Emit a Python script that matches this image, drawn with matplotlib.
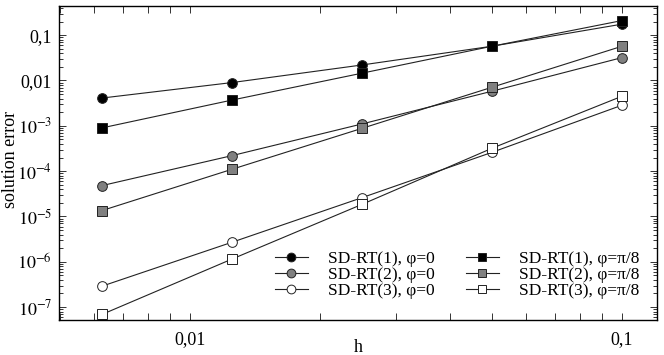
import matplotlib.pyplot as plt
from matplotlib.ticker import FixedLocator, FixedFormatter, LogLocator, NullFormatter

plt.rcParams['font.family'] = ['Liberation Serif', 'DejaVu Serif']
plt.rcParams['mathtext.fontset'] = 'stix'

h = [0.00625, 0.0125, 0.025, 0.05, 0.1]

rt1_phi0 = [0.0041, 0.0090, 0.022, 0.057, 0.175]
rt2_phi0 = [4.8e-5, 2.2e-4, 1.1e-3, 5.8e-3, 0.032]
rt3_phi0 = [2.9e-7, 2.7e-6, 2.6e-5, 2.6e-4, 2.85e-3]
rt1_phi8 = [9.0e-4, 3.7e-3, 0.0145, 0.057, 0.21]
rt2_phi8 = [1.35e-5, 1.1e-4, 8.8e-4, 7.1e-3, 0.057]
rt3_phi8 = [6.9e-8, 1.15e-6, 1.85e-5, 3.2e-4, 4.5e-3]

labels = ['SD-RT(1), φ=0', 'SD-RT(2), φ=0', 'SD-RT(3), φ=0',
          'SD-RT(1), φ=π/8', 'SD-RT(2), φ=π/8', 'SD-RT(3), φ=π/8']
series = [rt1_phi0, rt2_phi0, rt3_phi0, rt1_phi8, rt2_phi8, rt3_phi8]
markers = ['o', 'o', 'o', 's', 's', 's']
fills = ['black', '#808080', 'white', 'black', '#808080', 'white']

fig = plt.figure(figsize=(6.64, 3.55), dpi=100)
ax = fig.add_axes([59 / 664, 1 - 320 / 355, 598 / 664, 314 / 355])

for y, m, fc, lab in zip(series, markers, fills, labels):
    ax.plot(h, y, color='#222222', lw=0.8, marker=m, markersize=7,
            markerfacecolor=fc, markeredgecolor='#222222', markeredgewidth=0.7,
            label=lab)

ax.set_xscale('log')
ax.set_yscale('log')
ax.set_xlim(0.00497, 0.1205)
ax.set_ylim(5.2e-8, 0.44)

ax.xaxis.set_major_locator(FixedLocator([0.01, 0.1]))
ax.xaxis.set_major_formatter(FixedFormatter(['0,01', '0,1']))
ax.xaxis.set_minor_locator(LogLocator(base=10, subs=range(2, 10)))
ax.xaxis.set_minor_formatter(NullFormatter())

yt = [1e-7, 1e-6, 1e-5, 1e-4, 1e-3, 0.01, 0.1]
ax.yaxis.set_major_locator(FixedLocator(yt))
ax.yaxis.set_major_formatter(FixedFormatter(
    ['$10^{-7}$', '$10^{-6}$', '$10^{-5}$', '$10^{-4}$', '$10^{-3}$', '0,01', '0,1']))
ax.yaxis.set_minor_locator(LogLocator(base=10, subs=range(2, 10)))
ax.yaxis.set_minor_formatter(NullFormatter())

ax.tick_params(which='both', direction='in', top=True, right=True, labelsize=13,
               width=0.7, color='#333333')
ax.tick_params(which='major', length=5)
ax.tick_params(which='minor', length=3)
ax.tick_params(axis='x', which='both', length=5, pad=8)
ax.tick_params(axis='y', pad=5)
for s in ax.spines.values():
    s.set_linewidth(1.0)

ax.set_xlabel('h', fontsize=13, va='center')
ax.xaxis.set_label_coords(0.5, -0.086)
ax.set_ylabel('solution error', fontsize=13, va='center')
ax.yaxis.set_label_coords(-0.081, 0.51)

ax.legend(ncol=2, loc='lower right', frameon=False, fontsize=12.5,
          handlelength=1.9, columnspacing=1.8, labelspacing=0.0,
          handletextpad=1.15, markerscale=0.9, bbox_to_anchor=(0.996, 0.017))

fig.savefig('out.png', dpi=100)
